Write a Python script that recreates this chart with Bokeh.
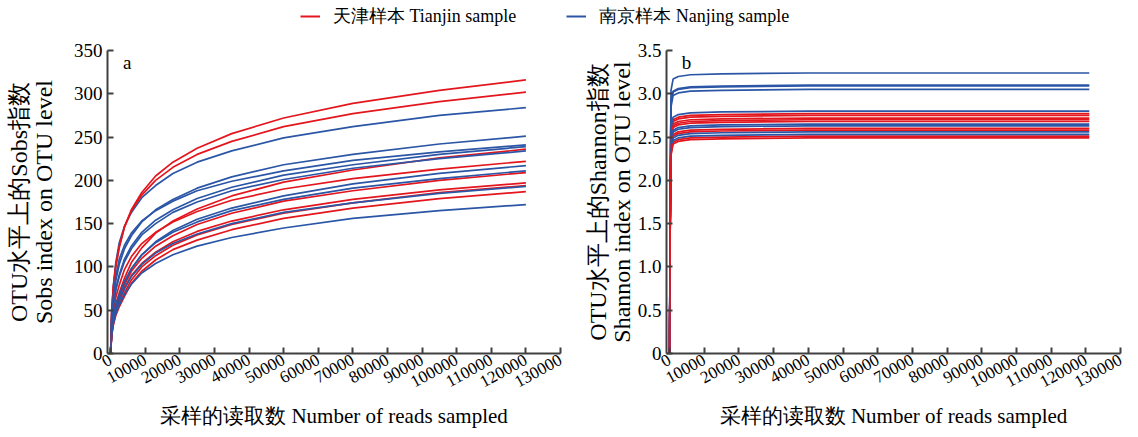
from bokeh.plotting import figure
from bokeh.models import FixedTicker, LinearAxis, Range1d, Legend, LegendItem, Label
from bokeh.layouts import column, row
from bokeh.embed import file_html
from bokeh.resources import INLINE

# ---------------- data ----------------
legend_labels = ["天津样本 Tianjin sample", "南京样本 Nanjing sample"]
x_label = "采样的读取数 Number of reads sampled"
y_label_a = ["OTU水平上的Sobs指数", "Sobs index on OTU level"]
y_label_b = ["OTU水平上的Shannon指数", "Shannon index on OTU level"]

x_ticks = [0, 10000, 20000, 30000, 40000, 50000, 60000, 70000, 80000, 90000,
           100000, 110000, 120000, 130000]
x_tick_labels = ["0", "10000", "20000", "30000", "40000", "50000", "60000", "70000",
                 "80000", "90000", "100000", "110000", "120000", "130000"]
y_ticks_a = [0, 50, 100, 150, 200, 250, 300, 350]
y_tick_labels_a = ["0", "50", "100", "150", "200", "250", "300", "350"]
y_ticks_b = [0, 0.5, 1.0, 1.5, 2.0, 2.5, 3.0, 3.5]
y_tick_labels_b = ["0", "0.5", "1.0", "1.5", "2.0", "2.5", "3.0", "3.5"]

# panel a: Sobs rarefaction curves
reads_a = [0, 300, 800, 1500, 2500, 4000, 6000, 9000, 13000, 18000, 25000,
           35000, 50000, 70000, 95000, 120000]
tianjin_sobs = [
    [0, 46, 76, 100, 122, 146, 166, 186, 205, 221, 237, 254, 272, 289, 304, 316],
    [0, 47, 77, 102, 124, 146, 165, 183, 200, 215, 230, 245, 262, 277, 291, 302],
    [0, 27, 43, 57, 70, 87, 105, 122, 139, 153, 167, 182, 198, 212, 226, 236],
    [0, 30, 49, 65, 79, 97, 112, 127, 140, 152, 164, 177, 190, 202, 213, 222],
    [0, 24, 40, 52, 64, 79, 95, 110, 124, 136, 149, 162, 176, 188, 200, 209],
    [0, 23, 38, 50, 61, 75, 90, 104, 117, 129, 141, 153, 166, 178, 189, 197],
    [0, 22, 35, 47, 57, 70, 85, 100, 113, 125, 137, 149, 162, 174, 186, 194],
    [0, 21, 33, 44, 54, 66, 81, 95, 108, 120, 131, 143, 156, 168, 179, 187],
]
nanjing_sobs = [
    [0, 49, 79, 105, 128, 147, 163, 180, 194, 208, 221, 234, 249, 262, 275, 284],
    [0, 39, 64, 84, 103, 121, 136, 152, 166, 178, 191, 204, 218, 230, 242, 251],
    [0, 41, 68, 89, 109, 125, 139, 153, 165, 176, 188, 199, 211, 223, 233, 241],
    [0, 35, 56, 75, 91, 109, 124, 140, 154, 166, 179, 192, 206, 218, 230, 239],
    [0, 34, 55, 73, 89, 106, 121, 137, 150, 163, 175, 188, 201, 214, 225, 234],
    [0, 25, 42, 55, 67, 82, 98, 114, 129, 142, 155, 168, 182, 196, 208, 217],
    [0, 26, 42, 56, 68, 83, 98, 114, 128, 140, 152, 165, 178, 191, 202, 211],
    [0, 23, 38, 50, 61, 75, 89, 103, 116, 127, 138, 150, 163, 174, 185, 193],
    [0, 21, 35, 46, 56, 68, 80, 93, 104, 114, 124, 134, 145, 156, 165, 172],
]

# panel b: Shannon curves
reads_b = [0, 150, 400, 1000, 2500, 6000, 15000, 40000, 121000]
tianjin_shannon = [
    [0, 1.52, 2.57, 2.70, 2.73, 2.75, 2.76, 2.77, 2.77],
    [0, 1.51, 2.55, 2.68, 2.71, 2.73, 2.74, 2.75, 2.75],
    [0, 1.50, 2.52, 2.65, 2.68, 2.70, 2.71, 2.72, 2.72],
    [0, 1.49, 2.50, 2.63, 2.66, 2.68, 2.69, 2.70, 2.70],
    [0, 1.47, 2.48, 2.61, 2.64, 2.66, 2.67, 2.68, 2.68],
    [0, 1.43, 2.40, 2.53, 2.56, 2.58, 2.59, 2.60, 2.60],
    [0, 1.42, 2.38, 2.51, 2.54, 2.56, 2.57, 2.58, 2.58],
    [0, 1.38, 2.31, 2.44, 2.47, 2.49, 2.50, 2.51, 2.51],
    [0, 1.37, 2.29, 2.42, 2.45, 2.47, 2.48, 2.49, 2.49],
]
nanjing_shannon = [
    [0, 1.78, 3.04, 3.17, 3.20, 3.22, 3.23, 3.24, 3.24],
    [0, 1.70, 2.90, 3.03, 3.06, 3.08, 3.09, 3.10, 3.10],
    [0, 1.70, 2.89, 3.02, 3.05, 3.07, 3.08, 3.09, 3.09],
    [0, 1.68, 2.85, 2.98, 3.01, 3.03, 3.04, 3.05, 3.05],
    [0, 1.54, 2.60, 2.73, 2.76, 2.78, 2.79, 2.80, 2.80],
    [0, 1.46, 2.45, 2.58, 2.61, 2.63, 2.64, 2.65, 2.65],
    [0, 1.45, 2.43, 2.56, 2.59, 2.61, 2.62, 2.63, 2.63],
    [0, 1.41, 2.36, 2.49, 2.52, 2.54, 2.55, 2.56, 2.56],
    [0, 1.39, 2.33, 2.46, 2.49, 2.51, 2.52, 2.53, 2.53],
]

# ---------------- style ----------------
RED = "#e3161e"
BLUE = "#2b56a6"
AX = "#404040"
FONT = "Liberation Serif"
LW = 1.7


def style_panel(p, y_ticks, y_tick_labels, ylab, lab_standoff, extra_standoff):
    p.xgrid.visible = False
    p.ygrid.visible = False
    p.outline_line_color = None
    p.background_fill_color = "white"
    p.border_fill_color = "white"
    xa = p.xaxis[0]
    xa.ticker = FixedTicker(ticks=x_ticks)
    xa.major_label_overrides = {t: l for t, l in zip(x_ticks, x_tick_labels)}
    xa.major_label_orientation = 0.5
    xa.axis_label = x_label
    ya = p.yaxis[0]
    ya.ticker = FixedTicker(ticks=y_ticks)
    ya.major_label_overrides = {t: l for t, l in zip(y_ticks, y_tick_labels)}
    ya.axis_label = ylab[1]
    ya.axis_label_standoff = lab_standoff
    for ax in (xa, ya):
        ax.axis_line_color = AX
        ax.axis_line_width = 2
        ax.major_tick_line_color = AX
        ax.major_tick_line_width = 2
        ax.major_tick_in = 6
        ax.major_tick_out = 0
        ax.minor_tick_line_color = None
        ax.major_label_text_font = FONT
        ax.major_label_text_color = "black"
        ax.major_label_standoff = 5
        ax.axis_label_text_font = FONT
        ax.axis_label_text_font_style = "normal"
        ax.axis_label_text_color = "black"
    xa.major_label_text_font_size = "17px"
    ya.major_label_text_font_size = "19px"
    xa.axis_label_text_font_size = "21px"
    xa.axis_label_standoff = 8
    ya.axis_label_text_font_size = "24px"
    extra = LinearAxis(ticker=FixedTicker(ticks=[]), axis_line_color=None,
                       major_tick_line_color=None, minor_tick_line_color=None,
                       major_label_text_font_size="0px", major_label_standoff=0,
                       major_tick_in=0, major_tick_out=0,
                       axis_label=ylab[0], axis_label_standoff=extra_standoff,
                       axis_label_text_font=FONT, axis_label_text_font_size="24px",
                       axis_label_text_font_style="normal", axis_label_text_color="black")
    p.add_layout(extra, "left")


H = 400
pa = figure(width=575, height=H, x_range=Range1d(-900, 130000), y_range=Range1d(0, 350),
            output_backend="svg", toolbar_location=None,
            min_border_left=107, min_border_right=15, min_border_top=14, min_border_bottom=83)
style_panel(pa, y_ticks_a, y_tick_labels_a, y_label_a, 14, -4)
n = max(len(tianjin_sobs), len(nanjing_sobs))
for i in range(n):
    if i < len(nanjing_sobs):
        pa.line(reads_a, nanjing_sobs[i], line_color=BLUE, line_width=LW)
    if i < len(tianjin_sobs):
        pa.line(reads_a, tianjin_sobs[i], line_color=RED, line_width=LW)
pa.add_layout(Label(x=4800, y=336, text="a", text_font=FONT, text_font_size="19px",
                    text_align="center", text_baseline="middle", text_color="black"))

pb = figure(width=560, height=H, x_range=Range1d(-900, 130000), y_range=Range1d(0, 3.5),
            output_backend="svg", toolbar_location=None,
            min_border_left=91, min_border_right=15, min_border_top=14, min_border_bottom=83)
style_panel(pb, y_ticks_b, y_tick_labels_b, y_label_b, 0, -5)
n = max(len(tianjin_shannon), len(nanjing_shannon))
for i in range(n):
    if i < len(nanjing_shannon):
        pb.line(reads_b, nanjing_shannon[i], line_color=BLUE, line_width=LW)
    if i < len(tianjin_shannon):
        pb.line(reads_b, tianjin_shannon[i], line_color=RED, line_width=LW)
pb.add_layout(Label(x=4850, y=3.36, text="b", text_font=FONT, text_font_size="19px",
                    text_align="center", text_baseline="middle", text_color="black"))

# legend strip: legend glyphs come from series renderers kept outside this strip's view
top = figure(width=1135, height=36, x_range=Range1d(0, 130000), y_range=Range1d(-20, -10),
             output_backend="svg", toolbar_location=None, min_border=0)
top.axis.visible = False
top.xgrid.visible = False
top.ygrid.visible = False
top.outline_line_color = None
r_red = top.line(reads_a, tianjin_sobs[0], line_color=RED, line_width=2)
r_blue = top.line(reads_a, nanjing_sobs[0], line_color=BLUE, line_width=2)
leg = Legend(items=[LegendItem(label=legend_labels[0], renderers=[r_red]),
                    LegendItem(label=legend_labels[1], renderers=[r_blue])],
             orientation="horizontal", location=(300, 8), padding=0, margin=0,
             spacing=50, glyph_width=20, glyph_height=20, label_standoff=13,
             label_text_font=FONT, label_text_font_size="18px", label_text_color="black",
             border_line_color=None, background_fill_alpha=0)
top.add_layout(leg, "center")

layout = column(top, row(pa, pb))
open("out.html", "w").write(file_html(layout, INLINE))
